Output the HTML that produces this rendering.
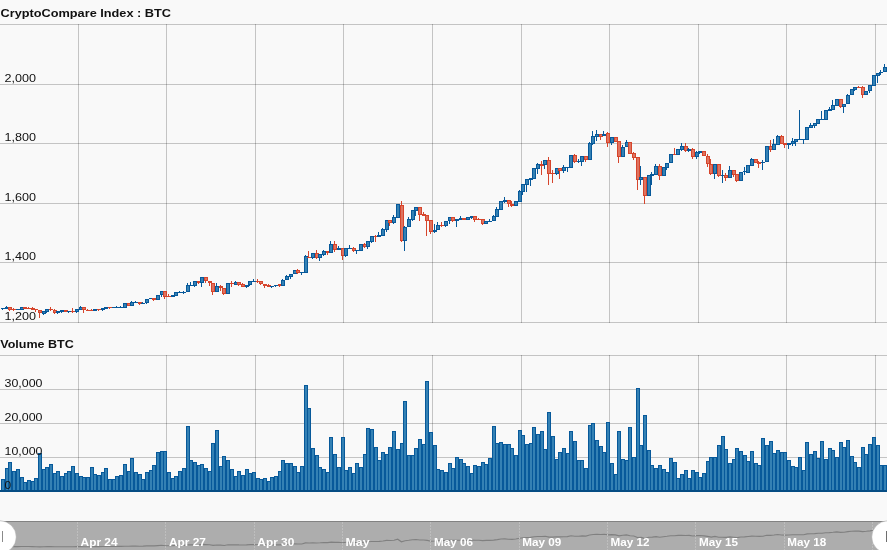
<!DOCTYPE html>
<html><head><meta charset="utf-8"><title>CryptoCompare Index : BTC</title>
<style>
html,body{margin:0;padding:0;background:#f9f9f9;overflow:hidden}
body{width:887px;height:550px;position:relative;font-family:"Liberation Sans",sans-serif;color:#000}
svg{position:absolute;left:0;top:0;display:block;will-change:transform}
text{font-family:"Liberation Sans",sans-serif}
.t{font-weight:bold;font-size:11.5px;fill:#111}
.yl{font-size:11px;fill:#111}
.sl{font-weight:bold;font-size:11px;fill:#fff}
.g{stroke:#000;stroke-opacity:0.21;stroke-width:1;shape-rendering:crispEdges}
.fb{fill:#3481b4}.wb{fill:#07599a}
.fr{fill:#df735f}.wr{fill:#d6452c}
</style></head><body>
<svg width="887" height="550" viewBox="0 0 887 550">
<rect x="0" y="0" width="887" height="550" fill="#f9f9f9"/>
<g class="g">
<line x1="0" y1="24.5" x2="887" y2="24.5"/>
<line x1="0" y1="84.5" x2="887" y2="84.5"/>
<line x1="0" y1="143.5" x2="887" y2="143.5"/>
<line x1="0" y1="203.5" x2="887" y2="203.5"/>
<line x1="0" y1="262.5" x2="887" y2="262.5"/>
<line x1="0" y1="322.5" x2="887" y2="322.5"/>
<line x1="78.5" y1="24" x2="78.5" y2="323"/>
<line x1="166.5" y1="24" x2="166.5" y2="323"/>
<line x1="255.5" y1="24" x2="255.5" y2="323"/>
<line x1="343.5" y1="24" x2="343.5" y2="323"/>
<line x1="432.5" y1="24" x2="432.5" y2="323"/>
<line x1="521.5" y1="24" x2="521.5" y2="323"/>
<line x1="609.5" y1="24" x2="609.5" y2="323"/>
<line x1="698.5" y1="24" x2="698.5" y2="323"/>
<line x1="786.5" y1="24" x2="786.5" y2="323"/>
<line x1="875.5" y1="24" x2="875.5" y2="323"/>
<line x1="0" y1="355.5" x2="887" y2="355.5"/>
<line x1="0" y1="389.5" x2="887" y2="389.5"/>
<line x1="0" y1="423.5" x2="887" y2="423.5"/>
<line x1="0" y1="457.5" x2="887" y2="457.5"/>
<line x1="78.5" y1="355" x2="78.5" y2="492"/>
<line x1="166.5" y1="355" x2="166.5" y2="492"/>
<line x1="255.5" y1="355" x2="255.5" y2="492"/>
<line x1="343.5" y1="355" x2="343.5" y2="492"/>
<line x1="432.5" y1="355" x2="432.5" y2="492"/>
<line x1="521.5" y1="355" x2="521.5" y2="492"/>
<line x1="609.5" y1="355" x2="609.5" y2="492"/>
<line x1="698.5" y1="355" x2="698.5" y2="492"/>
<line x1="786.5" y1="355" x2="786.5" y2="492"/>
<line x1="875.5" y1="355" x2="875.5" y2="492"/>
</g>
<text class="t" x="0.5" y="17" textLength="170.5" lengthAdjust="spacingAndGlyphs">CryptoCompare Index : BTC</text>
<text class="t" x="0.3" y="348" textLength="73.5" lengthAdjust="spacingAndGlyphs">Volume BTC</text>
<g shape-rendering="crispEdges">
<rect class="wb" x="2" y="308" width="1" height="2"/><rect class="wb" x="1" y="308" width="4" height="1"/>
<rect class="wb" x="6" y="306" width="1" height="3"/><rect class="wb" x="5" y="307" width="4" height="2"/>
<rect class="wr" x="9" y="307" width="1" height="4"/><rect class="wr" x="8" y="307" width="4" height="3"/><rect class="fr" x="9" y="308" width="2" height="1"/>
<rect class="wr" x="13" y="308" width="1" height="3"/><rect class="wr" x="12" y="309" width="4" height="1"/>
<rect class="wb" x="16" y="309" width="4" height="1"/>
<rect class="wb" x="20" y="307" width="4" height="3"/><rect class="fb" x="21" y="308" width="2" height="1"/>
<rect class="wr" x="23" y="307" width="4" height="2"/>
<rect class="wr" x="28" y="307" width="1" height="2"/><rect class="wr" x="27" y="308" width="4" height="1"/>
<rect class="wr" x="32" y="307" width="1" height="3"/><rect class="wr" x="31" y="308" width="4" height="2"/>
<rect class="wr" x="35" y="309" width="1" height="3"/><rect class="wr" x="34" y="309" width="4" height="1"/>
<rect class="wr" x="39" y="310" width="1" height="8"/><rect class="wr" x="38" y="310" width="4" height="3"/><rect class="fr" x="39" y="311" width="2" height="1"/>
<rect class="wb" x="43" y="311" width="1" height="4"/><rect class="wb" x="42" y="311" width="4" height="3"/><rect class="fb" x="43" y="312" width="2" height="1"/>
<rect class="wb" x="46" y="309" width="1" height="4"/><rect class="wb" x="45" y="309" width="4" height="3"/><rect class="fb" x="46" y="310" width="2" height="1"/>
<rect class="wr" x="50" y="307" width="1" height="4"/><rect class="wr" x="49" y="309" width="4" height="1"/>
<rect class="wr" x="54" y="309" width="1" height="5"/><rect class="wr" x="53" y="310" width="4" height="3"/><rect class="fr" x="54" y="311" width="2" height="1"/>
<rect class="wb" x="57" y="311" width="1" height="3"/><rect class="wb" x="56" y="311" width="4" height="2"/>
<rect class="wb" x="61" y="310" width="1" height="3"/><rect class="wb" x="60" y="310" width="4" height="2"/>
<rect class="wr" x="64" y="310" width="4" height="2"/>
<rect class="wb" x="68" y="311" width="1" height="2"/><rect class="wb" x="67" y="311" width="4" height="1"/>
<rect class="wr" x="72" y="308" width="1" height="5"/><rect class="wr" x="71" y="311" width="4" height="1"/>
<rect class="wb" x="76" y="309" width="1" height="4"/><rect class="wb" x="75" y="309" width="4" height="3"/><rect class="fb" x="76" y="310" width="2" height="1"/>
<rect class="wb" x="80" y="306" width="1" height="4"/><rect class="wb" x="79" y="307" width="4" height="3"/><rect class="fb" x="80" y="308" width="2" height="1"/>
<rect class="wr" x="83" y="307" width="1" height="6"/><rect class="wr" x="82" y="307" width="4" height="3"/><rect class="fr" x="83" y="308" width="2" height="1"/>
<rect class="wr" x="87" y="309" width="1" height="2"/><rect class="wr" x="86" y="310" width="4" height="1"/>
<rect class="wr" x="91" y="309" width="1" height="2"/><rect class="wr" x="90" y="310" width="4" height="1"/>
<rect class="wb" x="93" y="309" width="4" height="2"/>
<rect class="wr" x="98" y="309" width="1" height="2"/><rect class="wr" x="97" y="309" width="4" height="1"/>
<rect class="wb" x="102" y="308" width="1" height="3"/><rect class="wb" x="101" y="308" width="4" height="2"/>
<rect class="wb" x="104" y="307" width="4" height="2"/>
<rect class="wr" x="109" y="307" width="1" height="2"/><rect class="wr" x="108" y="307" width="4" height="1"/>
<rect class="wb" x="112" y="307" width="4" height="1"/>
<rect class="wb" x="116" y="306" width="1" height="2"/><rect class="wb" x="115" y="307" width="4" height="1"/>
<rect class="wb" x="120" y="306" width="1" height="2"/><rect class="wb" x="119" y="307" width="4" height="1"/>
<rect class="wb" x="123" y="303" width="4" height="5"/><rect class="fb" x="124" y="304" width="2" height="3"/>
<rect class="wr" x="127" y="303" width="4" height="3"/><rect class="fr" x="128" y="304" width="2" height="1"/>
<rect class="wb" x="131" y="301" width="1" height="5"/><rect class="wb" x="130" y="302" width="4" height="4"/><rect class="fb" x="131" y="303" width="2" height="2"/>
<rect class="wb" x="135" y="301" width="1" height="2"/><rect class="wb" x="134" y="302" width="4" height="1"/>
<rect class="wr" x="139" y="302" width="1" height="3"/><rect class="wr" x="138" y="302" width="4" height="2"/>
<rect class="wb" x="142" y="302" width="1" height="2"/><rect class="wb" x="141" y="303" width="4" height="1"/>
<rect class="wb" x="146" y="299" width="1" height="5"/><rect class="wb" x="145" y="299" width="4" height="4"/><rect class="fb" x="146" y="300" width="2" height="2"/>
<rect class="wb" x="149" y="298" width="4" height="1"/>
<rect class="wr" x="153" y="298" width="1" height="3"/><rect class="wr" x="152" y="298" width="4" height="2"/>
<rect class="wb" x="156" y="295" width="4" height="5"/><rect class="fb" x="157" y="296" width="2" height="3"/>
<rect class="wb" x="161" y="291" width="1" height="6"/><rect class="wb" x="160" y="291" width="4" height="4"/><rect class="fb" x="161" y="292" width="2" height="2"/>
<rect class="wr" x="164" y="291" width="1" height="8"/><rect class="wr" x="163" y="291" width="4" height="6"/><rect class="fr" x="164" y="292" width="2" height="4"/>
<rect class="wr" x="168" y="294" width="1" height="3"/><rect class="wr" x="167" y="296" width="4" height="1"/>
<rect class="wb" x="171" y="295" width="4" height="2"/>
<rect class="wb" x="174" y="292" width="4" height="4"/><rect class="fb" x="175" y="293" width="2" height="2"/>
<rect class="wb" x="179" y="291" width="1" height="2"/><rect class="wb" x="178" y="292" width="4" height="1"/>
<rect class="wb" x="183" y="291" width="1" height="3"/><rect class="wb" x="182" y="292" width="4" height="1"/>
<rect class="wb" x="187" y="283" width="1" height="9"/><rect class="wb" x="186" y="285" width="4" height="7"/><rect class="fb" x="187" y="286" width="2" height="5"/>
<rect class="wb" x="190" y="282" width="1" height="4"/><rect class="wb" x="189" y="285" width="4" height="1"/>
<rect class="wb" x="194" y="281" width="1" height="6"/><rect class="wb" x="193" y="281" width="4" height="5"/><rect class="fb" x="194" y="282" width="2" height="3"/>
<rect class="wr" x="198" y="281" width="1" height="3"/><rect class="wr" x="197" y="281" width="4" height="2"/>
<rect class="wb" x="201" y="277" width="1" height="10"/><rect class="wb" x="200" y="277" width="4" height="6"/><rect class="fb" x="201" y="278" width="2" height="4"/>
<rect class="wr" x="205" y="277" width="1" height="6"/><rect class="wr" x="204" y="277" width="4" height="4"/><rect class="fr" x="205" y="278" width="2" height="2"/>
<rect class="wr" x="209" y="281" width="1" height="5"/><rect class="wr" x="208" y="281" width="4" height="2"/>
<rect class="wr" x="212" y="283" width="1" height="12"/><rect class="wr" x="211" y="283" width="4" height="9"/><rect class="fr" x="212" y="284" width="2" height="7"/>
<rect class="wb" x="216" y="283" width="1" height="9"/><rect class="wb" x="215" y="286" width="4" height="6"/><rect class="fb" x="216" y="287" width="2" height="4"/>
<rect class="wr" x="220" y="285" width="1" height="6"/><rect class="wr" x="219" y="286" width="4" height="2"/>
<rect class="wr" x="223" y="288" width="1" height="7"/><rect class="wr" x="222" y="288" width="4" height="6"/><rect class="fr" x="223" y="289" width="2" height="4"/>
<rect class="wb" x="226" y="283" width="4" height="11"/><rect class="fb" x="227" y="284" width="2" height="9"/>
<rect class="wr" x="231" y="281" width="1" height="6"/><rect class="wr" x="230" y="283" width="4" height="1"/>
<rect class="wb" x="235" y="281" width="1" height="4"/><rect class="wb" x="234" y="282" width="4" height="3"/><rect class="fb" x="235" y="283" width="2" height="1"/>
<rect class="wr" x="238" y="282" width="1" height="4"/><rect class="wr" x="237" y="282" width="4" height="3"/><rect class="fr" x="238" y="283" width="2" height="1"/>
<rect class="wr" x="242" y="283" width="1" height="4"/><rect class="wr" x="241" y="284" width="4" height="3"/><rect class="fr" x="242" y="285" width="2" height="1"/>
<rect class="wb" x="246" y="285" width="1" height="3"/><rect class="wb" x="245" y="285" width="4" height="2"/>
<rect class="wb" x="249" y="281" width="1" height="5"/><rect class="wb" x="248" y="281" width="4" height="4"/><rect class="fb" x="249" y="282" width="2" height="2"/>
<rect class="wb" x="253" y="279" width="1" height="3"/><rect class="wb" x="252" y="281" width="4" height="1"/>
<rect class="wr" x="257" y="279" width="1" height="4"/><rect class="wr" x="256" y="281" width="4" height="1"/>
<rect class="wr" x="260" y="281" width="1" height="4"/><rect class="wr" x="259" y="281" width="4" height="3"/><rect class="fr" x="260" y="282" width="2" height="1"/>
<rect class="wr" x="264" y="284" width="1" height="4"/><rect class="wr" x="263" y="284" width="4" height="2"/>
<rect class="wr" x="268" y="284" width="1" height="3"/><rect class="wr" x="267" y="285" width="4" height="2"/>
<rect class="wb" x="271" y="286" width="1" height="2"/><rect class="wb" x="270" y="286" width="4" height="1"/>
<rect class="wb" x="275" y="285" width="1" height="2"/><rect class="wb" x="274" y="285" width="4" height="1"/>
<rect class="wr" x="279" y="284" width="1" height="3"/><rect class="wr" x="278" y="284" width="4" height="2"/>
<rect class="wb" x="282" y="279" width="1" height="7"/><rect class="wb" x="281" y="280" width="4" height="6"/><rect class="fb" x="282" y="281" width="2" height="4"/>
<rect class="wb" x="286" y="275" width="1" height="5"/><rect class="wb" x="285" y="276" width="4" height="4"/><rect class="fb" x="286" y="277" width="2" height="2"/>
<rect class="wb" x="290" y="274" width="1" height="5"/><rect class="wb" x="289" y="274" width="4" height="3"/><rect class="fb" x="290" y="275" width="2" height="1"/>
<rect class="wb" x="293" y="270" width="4" height="4"/><rect class="fb" x="294" y="271" width="2" height="2"/>
<rect class="wr" x="297" y="269" width="1" height="5"/><rect class="wr" x="296" y="270" width="4" height="3"/><rect class="fr" x="297" y="271" width="2" height="1"/>
<rect class="wb" x="301" y="272" width="1" height="3"/><rect class="wb" x="300" y="272" width="4" height="1"/>
<rect class="wb" x="305" y="255" width="1" height="18"/><rect class="wb" x="304" y="256" width="4" height="17"/><rect class="fb" x="305" y="257" width="2" height="15"/>
<rect class="wr" x="308" y="251" width="1" height="7"/><rect class="wr" x="307" y="257" width="4" height="1"/>
<rect class="wb" x="312" y="253" width="1" height="6"/><rect class="wb" x="311" y="253" width="4" height="5"/><rect class="fb" x="312" y="254" width="2" height="3"/>
<rect class="wr" x="316" y="250" width="1" height="9"/><rect class="wr" x="315" y="253" width="4" height="5"/><rect class="fr" x="316" y="254" width="2" height="3"/>
<rect class="wb" x="319" y="254" width="1" height="7"/><rect class="wb" x="318" y="254" width="4" height="4"/><rect class="fb" x="319" y="255" width="2" height="2"/>
<rect class="wb" x="323" y="250" width="1" height="6"/><rect class="wb" x="322" y="251" width="4" height="4"/><rect class="fb" x="323" y="252" width="2" height="2"/>
<rect class="wr" x="327" y="251" width="1" height="4"/><rect class="wr" x="326" y="251" width="4" height="2"/>
<rect class="wb" x="330" y="241" width="1" height="12"/><rect class="wb" x="329" y="244" width="4" height="9"/><rect class="fb" x="330" y="245" width="2" height="7"/>
<rect class="wr" x="334" y="241" width="1" height="11"/><rect class="wr" x="333" y="244" width="4" height="6"/><rect class="fr" x="334" y="245" width="2" height="4"/>
<rect class="wb" x="338" y="246" width="1" height="4"/><rect class="wb" x="337" y="248" width="4" height="2"/>
<rect class="wr" x="342" y="248" width="1" height="12"/><rect class="wr" x="341" y="248" width="4" height="8"/><rect class="fr" x="342" y="249" width="2" height="6"/>
<rect class="wb" x="345" y="248" width="1" height="9"/><rect class="wb" x="344" y="248" width="4" height="8"/><rect class="fb" x="345" y="249" width="2" height="6"/>
<rect class="wb" x="349" y="245" width="1" height="4"/><rect class="wb" x="348" y="248" width="4" height="1"/>
<rect class="wr" x="353" y="247" width="1" height="5"/><rect class="wr" x="352" y="248" width="4" height="3"/><rect class="fr" x="353" y="249" width="2" height="1"/>
<rect class="wb" x="356" y="250" width="1" height="4"/><rect class="wb" x="355" y="250" width="4" height="1"/>
<rect class="wb" x="359" y="244" width="4" height="7"/><rect class="fb" x="360" y="245" width="2" height="5"/>
<rect class="wr" x="364" y="243" width="1" height="5"/><rect class="wr" x="363" y="244" width="4" height="3"/><rect class="fr" x="364" y="245" width="2" height="1"/>
<rect class="wb" x="367" y="241" width="1" height="8"/><rect class="wb" x="366" y="241" width="4" height="6"/><rect class="fb" x="367" y="242" width="2" height="4"/>
<rect class="wb" x="371" y="236" width="1" height="7"/><rect class="wb" x="370" y="236" width="4" height="6"/><rect class="fb" x="371" y="237" width="2" height="4"/>
<rect class="wr" x="375" y="235" width="1" height="7"/><rect class="wr" x="374" y="236" width="4" height="1"/>
<rect class="wb" x="378" y="232" width="1" height="5"/><rect class="wb" x="377" y="235" width="4" height="2"/>
<rect class="wb" x="382" y="228" width="1" height="8"/><rect class="wb" x="381" y="229" width="4" height="7"/><rect class="fb" x="382" y="230" width="2" height="5"/>
<rect class="wb" x="386" y="220" width="1" height="12"/><rect class="wb" x="385" y="220" width="4" height="10"/><rect class="fb" x="386" y="221" width="2" height="8"/>
<rect class="wr" x="389" y="220" width="1" height="6"/><rect class="wr" x="388" y="220" width="4" height="3"/><rect class="fr" x="389" y="221" width="2" height="1"/>
<rect class="wb" x="393" y="215" width="1" height="9"/><rect class="wb" x="392" y="217" width="4" height="6"/><rect class="fb" x="393" y="218" width="2" height="4"/>
<rect class="wb" x="396" y="204" width="4" height="14"/><rect class="fb" x="397" y="205" width="2" height="12"/>
<rect class="wr" x="401" y="201" width="1" height="41"/><rect class="wr" x="400" y="205" width="4" height="36"/><rect class="fr" x="401" y="206" width="2" height="34"/>
<rect class="wb" x="404" y="226" width="1" height="25"/><rect class="wb" x="403" y="227" width="4" height="14"/><rect class="fb" x="404" y="228" width="2" height="12"/>
<rect class="wb" x="408" y="217" width="1" height="10"/><rect class="wb" x="407" y="219" width="4" height="8"/><rect class="fb" x="408" y="220" width="2" height="6"/>
<rect class="wb" x="412" y="210" width="1" height="11"/><rect class="wb" x="411" y="210" width="4" height="10"/><rect class="fb" x="412" y="211" width="2" height="8"/>
<rect class="wb" x="415" y="207" width="1" height="9"/><rect class="wb" x="414" y="207" width="4" height="4"/><rect class="fb" x="415" y="208" width="2" height="2"/>
<rect class="wr" x="419" y="207" width="1" height="14"/><rect class="wr" x="418" y="207" width="4" height="8"/><rect class="fr" x="419" y="208" width="2" height="6"/>
<rect class="wr" x="423" y="212" width="1" height="4"/><rect class="wr" x="422" y="214" width="4" height="2"/>
<rect class="wr" x="426" y="215" width="1" height="21"/><rect class="wr" x="425" y="215" width="4" height="6"/><rect class="fr" x="426" y="216" width="2" height="4"/>
<rect class="wr" x="430" y="220" width="1" height="14"/><rect class="wr" x="429" y="220" width="4" height="12"/><rect class="fr" x="430" y="221" width="2" height="10"/>
<rect class="wb" x="434" y="224" width="1" height="9"/><rect class="wb" x="433" y="230" width="4" height="2"/>
<rect class="wb" x="437" y="222" width="1" height="8"/><rect class="wb" x="436" y="225" width="4" height="5"/><rect class="fb" x="437" y="226" width="2" height="3"/>
<rect class="wr" x="441" y="222" width="1" height="5"/><rect class="wr" x="440" y="225" width="4" height="1"/>
<rect class="wb" x="445" y="221" width="1" height="6"/><rect class="wb" x="444" y="221" width="4" height="5"/><rect class="fb" x="445" y="222" width="2" height="3"/>
<rect class="wb" x="449" y="217" width="1" height="7"/><rect class="wb" x="448" y="217" width="4" height="4"/><rect class="fb" x="449" y="218" width="2" height="2"/>
<rect class="wr" x="452" y="217" width="1" height="5"/><rect class="wr" x="451" y="217" width="4" height="4"/><rect class="fr" x="452" y="218" width="2" height="2"/>
<rect class="wb" x="456" y="219" width="1" height="8"/><rect class="wb" x="455" y="219" width="4" height="2"/>
<rect class="wb" x="460" y="216" width="1" height="4"/><rect class="wb" x="459" y="218" width="4" height="2"/>
<rect class="wr" x="462" y="218" width="4" height="2"/>
<rect class="wb" x="466" y="217" width="4" height="3"/><rect class="fb" x="467" y="218" width="2" height="1"/>
<rect class="wb" x="471" y="216" width="1" height="3"/><rect class="wb" x="470" y="216" width="4" height="2"/>
<rect class="wr" x="474" y="216" width="1" height="6"/><rect class="wr" x="473" y="216" width="4" height="4"/><rect class="fr" x="474" y="217" width="2" height="2"/>
<rect class="wr" x="478" y="218" width="1" height="2"/><rect class="wr" x="477" y="219" width="4" height="1"/>
<rect class="wr" x="482" y="219" width="1" height="6"/><rect class="wr" x="481" y="219" width="4" height="5"/><rect class="fr" x="482" y="220" width="2" height="3"/>
<rect class="wb" x="484" y="221" width="4" height="3"/><rect class="fb" x="485" y="222" width="2" height="1"/>
<rect class="wb" x="489" y="219" width="1" height="3"/><rect class="wb" x="488" y="221" width="4" height="1"/>
<rect class="wb" x="493" y="215" width="1" height="6"/><rect class="wb" x="492" y="216" width="4" height="5"/><rect class="fb" x="493" y="217" width="2" height="3"/>
<rect class="wb" x="496" y="207" width="1" height="10"/><rect class="wb" x="495" y="209" width="4" height="8"/><rect class="fb" x="496" y="210" width="2" height="6"/>
<rect class="wb" x="499" y="201" width="4" height="9"/><rect class="fb" x="500" y="202" width="2" height="7"/>
<rect class="wb" x="504" y="197" width="1" height="6"/><rect class="wb" x="503" y="200" width="4" height="2"/>
<rect class="wr" x="508" y="200" width="1" height="7"/><rect class="wr" x="507" y="200" width="4" height="4"/><rect class="fr" x="508" y="201" width="2" height="2"/>
<rect class="wr" x="511" y="201" width="1" height="6"/><rect class="wr" x="510" y="204" width="4" height="2"/>
<rect class="wb" x="514" y="201" width="4" height="5"/><rect class="fb" x="515" y="202" width="2" height="3"/>
<rect class="wb" x="519" y="190" width="1" height="12"/><rect class="wb" x="518" y="191" width="4" height="11"/><rect class="fb" x="519" y="192" width="2" height="9"/>
<rect class="wb" x="522" y="184" width="1" height="11"/><rect class="wb" x="521" y="184" width="4" height="8"/><rect class="fb" x="522" y="185" width="2" height="6"/>
<rect class="wb" x="526" y="179" width="1" height="13"/><rect class="wb" x="525" y="179" width="4" height="6"/><rect class="fb" x="526" y="180" width="2" height="4"/>
<rect class="wb" x="530" y="178" width="1" height="8"/><rect class="wb" x="529" y="178" width="4" height="2"/>
<rect class="wb" x="532" y="168" width="4" height="11"/><rect class="fb" x="533" y="169" width="2" height="9"/>
<rect class="wb" x="537" y="163" width="1" height="11"/><rect class="wb" x="536" y="164" width="4" height="5"/><rect class="fb" x="537" y="165" width="2" height="3"/>
<rect class="wr" x="541" y="161" width="1" height="14"/><rect class="wr" x="540" y="164" width="4" height="2"/>
<rect class="wb" x="544" y="160" width="1" height="9"/><rect class="wb" x="543" y="160" width="4" height="5"/><rect class="fb" x="544" y="161" width="2" height="3"/>
<rect class="wr" x="548" y="157" width="1" height="28"/><rect class="wr" x="547" y="160" width="4" height="14"/><rect class="fr" x="548" y="161" width="2" height="12"/>
<rect class="wr" x="552" y="170" width="1" height="13"/><rect class="wr" x="551" y="173" width="4" height="1"/>
<rect class="wb" x="556" y="168" width="1" height="7"/><rect class="wb" x="555" y="168" width="4" height="6"/><rect class="fb" x="556" y="169" width="2" height="4"/>
<rect class="wr" x="559" y="168" width="1" height="11"/><rect class="wr" x="558" y="168" width="4" height="3"/><rect class="fr" x="559" y="169" width="2" height="1"/>
<rect class="wb" x="563" y="165" width="1" height="8"/><rect class="wb" x="562" y="167" width="4" height="4"/><rect class="fb" x="563" y="168" width="2" height="2"/>
<rect class="wb" x="567" y="167" width="1" height="5"/><rect class="wb" x="566" y="167" width="4" height="1"/>
<rect class="wb" x="569" y="155" width="4" height="13"/><rect class="fb" x="570" y="156" width="2" height="11"/>
<rect class="wr" x="574" y="154" width="1" height="9"/><rect class="wr" x="573" y="155" width="4" height="7"/><rect class="fr" x="574" y="156" width="2" height="5"/>
<rect class="wb" x="578" y="159" width="1" height="4"/><rect class="wb" x="577" y="161" width="4" height="1"/>
<rect class="wb" x="581" y="156" width="1" height="10"/><rect class="wb" x="580" y="156" width="4" height="6"/><rect class="fb" x="581" y="157" width="2" height="4"/>
<rect class="wr" x="585" y="156" width="1" height="6"/><rect class="wr" x="584" y="156" width="4" height="4"/><rect class="fr" x="585" y="157" width="2" height="2"/>
<rect class="wb" x="589" y="142" width="1" height="18"/><rect class="wb" x="588" y="143" width="4" height="17"/><rect class="fb" x="589" y="144" width="2" height="15"/>
<rect class="wb" x="592" y="131" width="1" height="14"/><rect class="wb" x="591" y="136" width="4" height="8"/><rect class="fb" x="592" y="137" width="2" height="6"/>
<rect class="wb" x="596" y="130" width="1" height="11"/><rect class="wb" x="595" y="134" width="4" height="3"/><rect class="fb" x="596" y="135" width="2" height="1"/>
<rect class="wr" x="600" y="134" width="1" height="6"/><rect class="wr" x="599" y="134" width="4" height="3"/><rect class="fr" x="600" y="135" width="2" height="1"/>
<rect class="wb" x="603" y="131" width="1" height="5"/><rect class="wb" x="602" y="134" width="4" height="2"/>
<rect class="wr" x="607" y="132" width="1" height="15"/><rect class="wr" x="606" y="133" width="4" height="10"/><rect class="fr" x="607" y="134" width="2" height="8"/>
<rect class="wb" x="611" y="137" width="1" height="8"/><rect class="wb" x="610" y="137" width="4" height="6"/><rect class="fb" x="611" y="138" width="2" height="4"/>
<rect class="wr" x="614" y="137" width="4" height="5"/><rect class="fr" x="615" y="138" width="2" height="3"/>
<rect class="wr" x="618" y="141" width="1" height="22"/><rect class="wr" x="617" y="141" width="4" height="16"/><rect class="fr" x="618" y="142" width="2" height="14"/>
<rect class="wb" x="622" y="145" width="1" height="12"/><rect class="wb" x="621" y="147" width="4" height="10"/><rect class="fb" x="622" y="148" width="2" height="8"/>
<rect class="wb" x="626" y="140" width="1" height="7"/><rect class="wb" x="625" y="142" width="4" height="5"/><rect class="fb" x="626" y="143" width="2" height="3"/>
<rect class="wr" x="628" y="142" width="4" height="12"/><rect class="fr" x="629" y="143" width="2" height="10"/>
<rect class="wr" x="633" y="152" width="1" height="8"/><rect class="wr" x="632" y="153" width="4" height="5"/><rect class="fr" x="633" y="154" width="2" height="3"/>
<rect class="wr" x="637" y="157" width="1" height="33"/><rect class="wr" x="636" y="157" width="4" height="23"/><rect class="fr" x="637" y="158" width="2" height="21"/>
<rect class="wb" x="640" y="166" width="1" height="19"/><rect class="wb" x="639" y="177" width="4" height="3"/><rect class="fb" x="640" y="178" width="2" height="1"/>
<rect class="wr" x="644" y="177" width="1" height="27"/><rect class="wr" x="643" y="177" width="4" height="19"/><rect class="fr" x="644" y="178" width="2" height="17"/>
<rect class="wb" x="647" y="175" width="4" height="21"/><rect class="fb" x="648" y="176" width="2" height="19"/>
<rect class="wb" x="651" y="172" width="1" height="13"/><rect class="wb" x="650" y="174" width="4" height="2"/>
<rect class="wb" x="655" y="164" width="1" height="11"/><rect class="wb" x="654" y="166" width="4" height="9"/><rect class="fb" x="655" y="167" width="2" height="7"/>
<rect class="wr" x="659" y="164" width="1" height="16"/><rect class="wr" x="658" y="166" width="4" height="10"/><rect class="fr" x="659" y="167" width="2" height="8"/>
<rect class="wb" x="662" y="167" width="4" height="9"/><rect class="fb" x="663" y="168" width="2" height="7"/>
<rect class="wb" x="666" y="163" width="1" height="7"/><rect class="wb" x="665" y="163" width="4" height="5"/><rect class="fb" x="666" y="164" width="2" height="3"/>
<rect class="wb" x="669" y="154" width="4" height="9"/><rect class="fb" x="670" y="155" width="2" height="7"/>
<rect class="wr" x="674" y="148" width="1" height="7"/><rect class="wr" x="673" y="154" width="4" height="1"/>
<rect class="wb" x="676" y="149" width="4" height="6"/><rect class="fb" x="677" y="150" width="2" height="4"/>
<rect class="wb" x="681" y="143" width="1" height="8"/><rect class="wb" x="680" y="146" width="4" height="4"/><rect class="fb" x="681" y="147" width="2" height="2"/>
<rect class="wr" x="685" y="143" width="1" height="9"/><rect class="wr" x="684" y="146" width="4" height="5"/><rect class="fr" x="685" y="147" width="2" height="3"/>
<rect class="wb" x="688" y="148" width="1" height="4"/><rect class="wb" x="687" y="149" width="4" height="2"/>
<rect class="wr" x="692" y="148" width="1" height="11"/><rect class="wr" x="691" y="149" width="4" height="8"/><rect class="fr" x="692" y="150" width="2" height="6"/>
<rect class="wb" x="696" y="151" width="1" height="8"/><rect class="wb" x="695" y="152" width="4" height="5"/><rect class="fb" x="696" y="153" width="2" height="3"/>
<rect class="wb" x="699" y="151" width="1" height="3"/><rect class="wb" x="698" y="151" width="4" height="2"/>
<rect class="wr" x="702" y="151" width="4" height="5"/><rect class="fr" x="703" y="152" width="2" height="3"/>
<rect class="wr" x="707" y="154" width="1" height="13"/><rect class="wr" x="706" y="156" width="4" height="8"/><rect class="fr" x="707" y="157" width="2" height="6"/>
<rect class="wr" x="710" y="159" width="1" height="16"/><rect class="wr" x="709" y="164" width="4" height="10"/><rect class="fr" x="710" y="165" width="2" height="8"/>
<rect class="wb" x="714" y="164" width="1" height="15"/><rect class="wb" x="713" y="164" width="4" height="10"/><rect class="fb" x="714" y="165" width="2" height="8"/>
<rect class="wr" x="718" y="164" width="1" height="13"/><rect class="wr" x="717" y="164" width="4" height="12"/><rect class="fr" x="718" y="165" width="2" height="10"/>
<rect class="wb" x="722" y="170" width="1" height="13"/><rect class="wb" x="721" y="175" width="4" height="1"/>
<rect class="wr" x="725" y="173" width="1" height="8"/><rect class="wr" x="724" y="175" width="4" height="3"/><rect class="fr" x="725" y="176" width="2" height="1"/>
<rect class="wb" x="729" y="166" width="1" height="12"/><rect class="wb" x="728" y="170" width="4" height="8"/><rect class="fb" x="729" y="171" width="2" height="6"/>
<rect class="wr" x="733" y="170" width="1" height="7"/><rect class="wr" x="732" y="170" width="4" height="5"/><rect class="fr" x="733" y="171" width="2" height="3"/>
<rect class="wr" x="736" y="174" width="1" height="8"/><rect class="wr" x="735" y="174" width="4" height="7"/><rect class="fr" x="736" y="175" width="2" height="5"/>
<rect class="wb" x="739" y="172" width="4" height="9"/><rect class="fb" x="740" y="173" width="2" height="7"/>
<rect class="wb" x="744" y="167" width="1" height="8"/><rect class="wb" x="743" y="171" width="4" height="1"/>
<rect class="wb" x="746" y="165" width="4" height="8"/><rect class="fb" x="747" y="166" width="2" height="6"/>
<rect class="wb" x="751" y="158" width="1" height="8"/><rect class="wb" x="750" y="159" width="4" height="7"/><rect class="fb" x="751" y="160" width="2" height="5"/>
<rect class="wr" x="754" y="159" width="4" height="4"/><rect class="fr" x="755" y="160" width="2" height="2"/>
<rect class="wr" x="758" y="161" width="1" height="7"/><rect class="wr" x="757" y="162" width="4" height="2"/>
<rect class="wb" x="762" y="160" width="1" height="10"/><rect class="wb" x="761" y="162" width="4" height="1"/>
<rect class="wb" x="765" y="146" width="4" height="16"/><rect class="fb" x="766" y="147" width="2" height="14"/>
<rect class="wr" x="770" y="140" width="1" height="12"/><rect class="wr" x="769" y="146" width="4" height="4"/><rect class="fr" x="770" y="147" width="2" height="2"/>
<rect class="wb" x="773" y="139" width="1" height="11"/><rect class="wb" x="772" y="144" width="4" height="6"/><rect class="fb" x="773" y="145" width="2" height="4"/>
<rect class="wb" x="777" y="135" width="1" height="10"/><rect class="wb" x="776" y="136" width="4" height="9"/><rect class="fb" x="777" y="137" width="2" height="7"/>
<rect class="wr" x="781" y="135" width="1" height="9"/><rect class="wr" x="780" y="136" width="4" height="8"/><rect class="fr" x="781" y="137" width="2" height="6"/>
<rect class="wr" x="784" y="143" width="1" height="5"/><rect class="wr" x="783" y="143" width="4" height="2"/>
<rect class="wb" x="788" y="143" width="1" height="6"/><rect class="wb" x="787" y="143" width="4" height="2"/>
<rect class="wb" x="792" y="138" width="1" height="8"/><rect class="wb" x="791" y="141" width="4" height="3"/><rect class="fb" x="792" y="142" width="2" height="1"/>
<rect class="wb" x="795" y="139" width="1" height="7"/><rect class="wb" x="794" y="139" width="4" height="3"/><rect class="fb" x="795" y="140" width="2" height="1"/>
<rect class="wb" x="799" y="110" width="1" height="30"/><rect class="wb" x="798" y="139" width="4" height="1"/>
<rect class="wb" x="803" y="139" width="1" height="5"/><rect class="wb" x="802" y="139" width="4" height="1"/>
<rect class="wb" x="805" y="127" width="4" height="13"/><rect class="fb" x="806" y="128" width="2" height="11"/>
<rect class="wb" x="810" y="123" width="1" height="5"/><rect class="wb" x="809" y="125" width="4" height="3"/><rect class="fb" x="810" y="126" width="2" height="1"/>
<rect class="wb" x="814" y="123" width="1" height="5"/><rect class="wb" x="813" y="123" width="4" height="3"/><rect class="fb" x="814" y="124" width="2" height="1"/>
<rect class="wb" x="816" y="119" width="4" height="5"/><rect class="fb" x="817" y="120" width="2" height="3"/>
<rect class="wb" x="821" y="111" width="1" height="9"/><rect class="wb" x="820" y="119" width="4" height="1"/>
<rect class="wb" x="824" y="110" width="4" height="10"/><rect class="fb" x="825" y="111" width="2" height="8"/>
<rect class="wb" x="829" y="107" width="1" height="4"/><rect class="wb" x="828" y="109" width="4" height="2"/>
<rect class="wb" x="832" y="100" width="1" height="10"/><rect class="wb" x="831" y="105" width="4" height="5"/><rect class="fb" x="832" y="106" width="2" height="3"/>
<rect class="wb" x="835" y="99" width="4" height="7"/><rect class="fb" x="836" y="100" width="2" height="5"/>
<rect class="wr" x="840" y="99" width="1" height="9"/><rect class="wr" x="839" y="99" width="4" height="8"/><rect class="fr" x="840" y="100" width="2" height="6"/>
<rect class="wb" x="843" y="104" width="1" height="9"/><rect class="wb" x="842" y="104" width="4" height="3"/><rect class="fb" x="843" y="105" width="2" height="1"/>
<rect class="wb" x="847" y="94" width="1" height="10"/><rect class="wb" x="846" y="95" width="4" height="9"/><rect class="fb" x="847" y="96" width="2" height="7"/>
<rect class="wb" x="850" y="89" width="4" height="6"/><rect class="fb" x="851" y="90" width="2" height="4"/>
<rect class="wb" x="854" y="87" width="1" height="4"/><rect class="wb" x="853" y="87" width="4" height="3"/><rect class="fb" x="854" y="88" width="2" height="1"/>
<rect class="wr" x="858" y="86" width="1" height="2"/><rect class="wr" x="857" y="87" width="4" height="1"/>
<rect class="wr" x="862" y="86" width="1" height="12"/><rect class="wr" x="861" y="87" width="4" height="8"/><rect class="fr" x="862" y="88" width="2" height="6"/>
<rect class="wb" x="864" y="91" width="4" height="4"/><rect class="fb" x="865" y="92" width="2" height="2"/>
<rect class="wb" x="869" y="85" width="1" height="8"/><rect class="wb" x="868" y="85" width="4" height="6"/><rect class="fb" x="869" y="86" width="2" height="4"/>
<rect class="wb" x="872" y="75" width="4" height="11"/><rect class="fb" x="873" y="76" width="2" height="9"/>
<rect class="wb" x="877" y="73" width="1" height="10"/><rect class="wb" x="876" y="73" width="4" height="3"/><rect class="fb" x="877" y="74" width="2" height="1"/>
<rect class="wb" x="880" y="70" width="1" height="5"/><rect class="wb" x="879" y="72" width="4" height="1"/>
<rect class="wb" x="884" y="64" width="1" height="8"/><rect class="wb" x="883" y="67" width="4" height="5"/><rect class="fb" x="884" y="68" width="2" height="3"/>
</g>
<g shape-rendering="crispEdges">
<rect class="wb" x="1" y="479" width="4" height="12"/><rect class="fb" x="2" y="480" width="2" height="11"/>
<rect class="wb" x="5" y="468" width="4" height="23"/><rect class="fb" x="6" y="469" width="2" height="22"/>
<rect class="wb" x="8" y="462" width="4" height="29"/><rect class="fb" x="9" y="463" width="2" height="28"/>
<rect class="wb" x="12" y="471" width="4" height="20"/><rect class="fb" x="13" y="472" width="2" height="19"/>
<rect class="wb" x="16" y="469" width="4" height="22"/><rect class="fb" x="17" y="470" width="2" height="21"/>
<rect class="wb" x="20" y="477" width="4" height="14"/><rect class="fb" x="21" y="478" width="2" height="13"/>
<rect class="wb" x="23" y="482" width="4" height="9"/><rect class="fb" x="24" y="483" width="2" height="8"/>
<rect class="wb" x="27" y="480" width="4" height="11"/><rect class="fb" x="28" y="481" width="2" height="10"/>
<rect class="wb" x="31" y="481" width="4" height="10"/><rect class="fb" x="32" y="482" width="2" height="9"/>
<rect class="wb" x="34" y="478" width="4" height="13"/><rect class="fb" x="35" y="479" width="2" height="12"/>
<rect class="wb" x="38" y="453" width="4" height="38"/><rect class="fb" x="39" y="454" width="2" height="37"/>
<rect class="wb" x="42" y="469" width="4" height="22"/><rect class="fb" x="43" y="470" width="2" height="21"/>
<rect class="wb" x="45" y="467" width="4" height="24"/><rect class="fb" x="46" y="468" width="2" height="23"/>
<rect class="wb" x="49" y="464" width="4" height="27"/><rect class="fb" x="50" y="465" width="2" height="26"/>
<rect class="wb" x="53" y="473" width="4" height="18"/><rect class="fb" x="54" y="474" width="2" height="17"/>
<rect class="wb" x="56" y="471" width="4" height="20"/><rect class="fb" x="57" y="472" width="2" height="19"/>
<rect class="wb" x="60" y="476" width="4" height="15"/><rect class="fb" x="61" y="477" width="2" height="14"/>
<rect class="wb" x="64" y="473" width="4" height="18"/><rect class="fb" x="65" y="474" width="2" height="17"/>
<rect class="wb" x="67" y="471" width="4" height="20"/><rect class="fb" x="68" y="472" width="2" height="19"/>
<rect class="wb" x="71" y="466" width="4" height="25"/><rect class="fb" x="72" y="467" width="2" height="24"/>
<rect class="wb" x="75" y="473" width="4" height="18"/><rect class="fb" x="76" y="474" width="2" height="17"/>
<rect class="wb" x="79" y="476" width="4" height="15"/><rect class="fb" x="80" y="477" width="2" height="14"/>
<rect class="wb" x="82" y="477" width="4" height="14"/><rect class="fb" x="83" y="478" width="2" height="13"/>
<rect class="wb" x="86" y="477" width="4" height="14"/><rect class="fb" x="87" y="478" width="2" height="13"/>
<rect class="wb" x="90" y="467" width="4" height="24"/><rect class="fb" x="91" y="468" width="2" height="23"/>
<rect class="wb" x="93" y="474" width="4" height="17"/><rect class="fb" x="94" y="475" width="2" height="16"/>
<rect class="wb" x="97" y="475" width="4" height="16"/><rect class="fb" x="98" y="476" width="2" height="15"/>
<rect class="wb" x="101" y="472" width="4" height="19"/><rect class="fb" x="102" y="473" width="2" height="18"/>
<rect class="wb" x="104" y="468" width="4" height="23"/><rect class="fb" x="105" y="469" width="2" height="22"/>
<rect class="wb" x="108" y="479" width="4" height="12"/><rect class="fb" x="109" y="480" width="2" height="11"/>
<rect class="wb" x="112" y="479" width="4" height="12"/><rect class="fb" x="113" y="480" width="2" height="11"/>
<rect class="wb" x="115" y="476" width="4" height="15"/><rect class="fb" x="116" y="477" width="2" height="14"/>
<rect class="wb" x="119" y="475" width="4" height="16"/><rect class="fb" x="120" y="476" width="2" height="15"/>
<rect class="wb" x="123" y="464" width="4" height="27"/><rect class="fb" x="124" y="465" width="2" height="26"/>
<rect class="wb" x="127" y="471" width="4" height="20"/><rect class="fb" x="128" y="472" width="2" height="19"/>
<rect class="wb" x="130" y="458" width="4" height="33"/><rect class="fb" x="131" y="459" width="2" height="32"/>
<rect class="wb" x="134" y="472" width="4" height="19"/><rect class="fb" x="135" y="473" width="2" height="18"/>
<rect class="wb" x="138" y="474" width="4" height="17"/><rect class="fb" x="139" y="475" width="2" height="16"/>
<rect class="wb" x="141" y="479" width="4" height="12"/><rect class="fb" x="142" y="480" width="2" height="11"/>
<rect class="wb" x="145" y="472" width="4" height="19"/><rect class="fb" x="146" y="473" width="2" height="18"/>
<rect class="wb" x="149" y="470" width="4" height="21"/><rect class="fb" x="150" y="471" width="2" height="20"/>
<rect class="wb" x="152" y="465" width="4" height="26"/><rect class="fb" x="153" y="466" width="2" height="25"/>
<rect class="wb" x="156" y="452" width="4" height="39"/><rect class="fb" x="157" y="453" width="2" height="38"/>
<rect class="wb" x="160" y="451" width="4" height="40"/><rect class="fb" x="161" y="452" width="2" height="39"/>
<rect class="wb" x="163" y="451" width="4" height="40"/><rect class="fb" x="164" y="452" width="2" height="39"/>
<rect class="wb" x="167" y="472" width="4" height="19"/><rect class="fb" x="168" y="473" width="2" height="18"/>
<rect class="wb" x="171" y="478" width="4" height="13"/><rect class="fb" x="172" y="479" width="2" height="12"/>
<rect class="wb" x="174" y="476" width="4" height="15"/><rect class="fb" x="175" y="477" width="2" height="14"/>
<rect class="wb" x="178" y="471" width="4" height="20"/><rect class="fb" x="179" y="472" width="2" height="19"/>
<rect class="wb" x="182" y="468" width="4" height="23"/><rect class="fb" x="183" y="469" width="2" height="22"/>
<rect class="wb" x="186" y="426" width="4" height="65"/><rect class="fb" x="187" y="427" width="2" height="64"/>
<rect class="wb" x="189" y="460" width="4" height="31"/><rect class="fb" x="190" y="461" width="2" height="30"/>
<rect class="wb" x="193" y="462" width="4" height="29"/><rect class="fb" x="194" y="463" width="2" height="28"/>
<rect class="wb" x="197" y="465" width="4" height="26"/><rect class="fb" x="198" y="466" width="2" height="25"/>
<rect class="wb" x="200" y="464" width="4" height="27"/><rect class="fb" x="201" y="465" width="2" height="26"/>
<rect class="wb" x="204" y="468" width="4" height="23"/><rect class="fb" x="205" y="469" width="2" height="22"/>
<rect class="wb" x="208" y="471" width="4" height="20"/><rect class="fb" x="209" y="472" width="2" height="19"/>
<rect class="wb" x="211" y="443" width="4" height="48"/><rect class="fb" x="212" y="444" width="2" height="47"/>
<rect class="wb" x="215" y="430" width="4" height="61"/><rect class="fb" x="216" y="431" width="2" height="60"/>
<rect class="wb" x="219" y="466" width="4" height="25"/><rect class="fb" x="220" y="467" width="2" height="24"/>
<rect class="wb" x="222" y="456" width="4" height="35"/><rect class="fb" x="223" y="457" width="2" height="34"/>
<rect class="wb" x="226" y="460" width="4" height="31"/><rect class="fb" x="227" y="461" width="2" height="30"/>
<rect class="wb" x="230" y="469" width="4" height="22"/><rect class="fb" x="231" y="470" width="2" height="21"/>
<rect class="wb" x="234" y="476" width="4" height="15"/><rect class="fb" x="235" y="477" width="2" height="14"/>
<rect class="wb" x="237" y="471" width="4" height="20"/><rect class="fb" x="238" y="472" width="2" height="19"/>
<rect class="wb" x="241" y="475" width="4" height="16"/><rect class="fb" x="242" y="476" width="2" height="15"/>
<rect class="wb" x="245" y="469" width="4" height="22"/><rect class="fb" x="246" y="470" width="2" height="21"/>
<rect class="wb" x="248" y="473" width="4" height="18"/><rect class="fb" x="249" y="474" width="2" height="17"/>
<rect class="wb" x="252" y="472" width="4" height="19"/><rect class="fb" x="253" y="473" width="2" height="18"/>
<rect class="wb" x="256" y="478" width="4" height="13"/><rect class="fb" x="257" y="479" width="2" height="12"/>
<rect class="wb" x="259" y="479" width="4" height="12"/><rect class="fb" x="260" y="480" width="2" height="11"/>
<rect class="wb" x="263" y="478" width="4" height="13"/><rect class="fb" x="264" y="479" width="2" height="12"/>
<rect class="wb" x="267" y="481" width="4" height="10"/><rect class="fb" x="268" y="482" width="2" height="9"/>
<rect class="wb" x="270" y="477" width="4" height="14"/><rect class="fb" x="271" y="478" width="2" height="13"/>
<rect class="wb" x="274" y="476" width="4" height="15"/><rect class="fb" x="275" y="477" width="2" height="14"/>
<rect class="wb" x="278" y="471" width="4" height="20"/><rect class="fb" x="279" y="472" width="2" height="19"/>
<rect class="wb" x="281" y="460" width="4" height="31"/><rect class="fb" x="282" y="461" width="2" height="30"/>
<rect class="wb" x="285" y="463" width="4" height="28"/><rect class="fb" x="286" y="464" width="2" height="27"/>
<rect class="wb" x="289" y="463" width="4" height="28"/><rect class="fb" x="290" y="464" width="2" height="27"/>
<rect class="wb" x="293" y="466" width="4" height="25"/><rect class="fb" x="294" y="467" width="2" height="24"/>
<rect class="wb" x="296" y="472" width="4" height="19"/><rect class="fb" x="297" y="473" width="2" height="18"/>
<rect class="wb" x="300" y="466" width="4" height="25"/><rect class="fb" x="301" y="467" width="2" height="24"/>
<rect class="wb" x="304" y="385" width="4" height="106"/><rect class="fb" x="305" y="386" width="2" height="105"/>
<rect class="wb" x="307" y="408" width="4" height="83"/><rect class="fb" x="308" y="409" width="2" height="82"/>
<rect class="wb" x="311" y="448" width="4" height="43"/><rect class="fb" x="312" y="449" width="2" height="42"/>
<rect class="wb" x="315" y="455" width="4" height="36"/><rect class="fb" x="316" y="456" width="2" height="35"/>
<rect class="wb" x="318" y="467" width="4" height="24"/><rect class="fb" x="319" y="468" width="2" height="23"/>
<rect class="wb" x="322" y="469" width="4" height="22"/><rect class="fb" x="323" y="470" width="2" height="21"/>
<rect class="wb" x="326" y="472" width="4" height="19"/><rect class="fb" x="327" y="473" width="2" height="18"/>
<rect class="wb" x="329" y="437" width="4" height="54"/><rect class="fb" x="330" y="438" width="2" height="53"/>
<rect class="wb" x="333" y="454" width="4" height="37"/><rect class="fb" x="334" y="455" width="2" height="36"/>
<rect class="wb" x="337" y="467" width="4" height="24"/><rect class="fb" x="338" y="468" width="2" height="23"/>
<rect class="wb" x="341" y="437" width="4" height="54"/><rect class="fb" x="342" y="438" width="2" height="53"/>
<rect class="wb" x="344" y="470" width="4" height="21"/><rect class="fb" x="345" y="471" width="2" height="20"/>
<rect class="wb" x="348" y="467" width="4" height="24"/><rect class="fb" x="349" y="468" width="2" height="23"/>
<rect class="wb" x="352" y="473" width="4" height="18"/><rect class="fb" x="353" y="474" width="2" height="17"/>
<rect class="wb" x="355" y="463" width="4" height="28"/><rect class="fb" x="356" y="464" width="2" height="27"/>
<rect class="wb" x="359" y="467" width="4" height="24"/><rect class="fb" x="360" y="468" width="2" height="23"/>
<rect class="wb" x="363" y="454" width="4" height="37"/><rect class="fb" x="364" y="455" width="2" height="36"/>
<rect class="wb" x="366" y="428" width="4" height="63"/><rect class="fb" x="367" y="429" width="2" height="62"/>
<rect class="wb" x="370" y="429" width="4" height="62"/><rect class="fb" x="371" y="430" width="2" height="61"/>
<rect class="wb" x="374" y="447" width="4" height="44"/><rect class="fb" x="375" y="448" width="2" height="43"/>
<rect class="wb" x="377" y="460" width="4" height="31"/><rect class="fb" x="378" y="461" width="2" height="30"/>
<rect class="wb" x="381" y="452" width="4" height="39"/><rect class="fb" x="382" y="453" width="2" height="38"/>
<rect class="wb" x="385" y="454" width="4" height="37"/><rect class="fb" x="386" y="455" width="2" height="36"/>
<rect class="wb" x="388" y="447" width="4" height="44"/><rect class="fb" x="389" y="448" width="2" height="43"/>
<rect class="wb" x="392" y="431" width="4" height="60"/><rect class="fb" x="393" y="432" width="2" height="59"/>
<rect class="wb" x="396" y="449" width="4" height="42"/><rect class="fb" x="397" y="450" width="2" height="41"/>
<rect class="wb" x="400" y="443" width="4" height="48"/><rect class="fb" x="401" y="444" width="2" height="47"/>
<rect class="wb" x="403" y="401" width="4" height="90"/><rect class="fb" x="404" y="402" width="2" height="89"/>
<rect class="wb" x="407" y="455" width="4" height="36"/><rect class="fb" x="408" y="456" width="2" height="35"/>
<rect class="wb" x="411" y="455" width="4" height="36"/><rect class="fb" x="412" y="456" width="2" height="35"/>
<rect class="wb" x="414" y="448" width="4" height="43"/><rect class="fb" x="415" y="449" width="2" height="42"/>
<rect class="wb" x="418" y="439" width="4" height="52"/><rect class="fb" x="419" y="440" width="2" height="51"/>
<rect class="wb" x="422" y="444" width="4" height="47"/><rect class="fb" x="423" y="445" width="2" height="46"/>
<rect class="wb" x="425" y="381" width="4" height="110"/><rect class="fb" x="426" y="382" width="2" height="109"/>
<rect class="wb" x="429" y="432" width="4" height="59"/><rect class="fb" x="430" y="433" width="2" height="58"/>
<rect class="wb" x="433" y="445" width="4" height="46"/><rect class="fb" x="434" y="446" width="2" height="45"/>
<rect class="wb" x="436" y="469" width="4" height="22"/><rect class="fb" x="437" y="470" width="2" height="21"/>
<rect class="wb" x="440" y="470" width="4" height="21"/><rect class="fb" x="441" y="471" width="2" height="20"/>
<rect class="wb" x="444" y="472" width="4" height="19"/><rect class="fb" x="445" y="473" width="2" height="18"/>
<rect class="wb" x="448" y="463" width="4" height="28"/><rect class="fb" x="449" y="464" width="2" height="27"/>
<rect class="wb" x="451" y="468" width="4" height="23"/><rect class="fb" x="452" y="469" width="2" height="22"/>
<rect class="wb" x="455" y="457" width="4" height="34"/><rect class="fb" x="456" y="458" width="2" height="33"/>
<rect class="wb" x="459" y="459" width="4" height="32"/><rect class="fb" x="460" y="460" width="2" height="31"/>
<rect class="wb" x="462" y="463" width="4" height="28"/><rect class="fb" x="463" y="464" width="2" height="27"/>
<rect class="wb" x="466" y="466" width="4" height="25"/><rect class="fb" x="467" y="467" width="2" height="24"/>
<rect class="wb" x="470" y="473" width="4" height="18"/><rect class="fb" x="471" y="474" width="2" height="17"/>
<rect class="wb" x="473" y="465" width="4" height="26"/><rect class="fb" x="474" y="466" width="2" height="25"/>
<rect class="wb" x="477" y="466" width="4" height="25"/><rect class="fb" x="478" y="467" width="2" height="24"/>
<rect class="wb" x="481" y="462" width="4" height="29"/><rect class="fb" x="482" y="463" width="2" height="28"/>
<rect class="wb" x="484" y="464" width="4" height="27"/><rect class="fb" x="485" y="465" width="2" height="26"/>
<rect class="wb" x="488" y="458" width="4" height="33"/><rect class="fb" x="489" y="459" width="2" height="32"/>
<rect class="wb" x="492" y="426" width="4" height="65"/><rect class="fb" x="493" y="427" width="2" height="64"/>
<rect class="wb" x="495" y="443" width="4" height="48"/><rect class="fb" x="496" y="444" width="2" height="47"/>
<rect class="wb" x="499" y="442" width="4" height="49"/><rect class="fb" x="500" y="443" width="2" height="48"/>
<rect class="wb" x="503" y="444" width="4" height="47"/><rect class="fb" x="504" y="445" width="2" height="46"/>
<rect class="wb" x="507" y="444" width="4" height="47"/><rect class="fb" x="508" y="445" width="2" height="46"/>
<rect class="wb" x="510" y="448" width="4" height="43"/><rect class="fb" x="511" y="449" width="2" height="42"/>
<rect class="wb" x="514" y="455" width="4" height="36"/><rect class="fb" x="515" y="456" width="2" height="35"/>
<rect class="wb" x="518" y="430" width="4" height="61"/><rect class="fb" x="519" y="431" width="2" height="60"/>
<rect class="wb" x="521" y="435" width="4" height="56"/><rect class="fb" x="522" y="436" width="2" height="55"/>
<rect class="wb" x="525" y="444" width="4" height="47"/><rect class="fb" x="526" y="445" width="2" height="46"/>
<rect class="wb" x="529" y="443" width="4" height="48"/><rect class="fb" x="530" y="444" width="2" height="47"/>
<rect class="wb" x="532" y="427" width="4" height="64"/><rect class="fb" x="533" y="428" width="2" height="63"/>
<rect class="wb" x="536" y="434" width="4" height="57"/><rect class="fb" x="537" y="435" width="2" height="56"/>
<rect class="wb" x="540" y="431" width="4" height="60"/><rect class="fb" x="541" y="432" width="2" height="59"/>
<rect class="wb" x="543" y="449" width="4" height="42"/><rect class="fb" x="544" y="450" width="2" height="41"/>
<rect class="wb" x="547" y="412" width="4" height="79"/><rect class="fb" x="548" y="413" width="2" height="78"/>
<rect class="wb" x="551" y="436" width="4" height="55"/><rect class="fb" x="552" y="437" width="2" height="54"/>
<rect class="wb" x="555" y="459" width="4" height="32"/><rect class="fb" x="556" y="460" width="2" height="31"/>
<rect class="wb" x="558" y="452" width="4" height="39"/><rect class="fb" x="559" y="453" width="2" height="38"/>
<rect class="wb" x="562" y="448" width="4" height="43"/><rect class="fb" x="563" y="449" width="2" height="42"/>
<rect class="wb" x="566" y="453" width="4" height="38"/><rect class="fb" x="567" y="454" width="2" height="37"/>
<rect class="wb" x="569" y="431" width="4" height="60"/><rect class="fb" x="570" y="432" width="2" height="59"/>
<rect class="wb" x="573" y="441" width="4" height="50"/><rect class="fb" x="574" y="442" width="2" height="49"/>
<rect class="wb" x="577" y="460" width="4" height="31"/><rect class="fb" x="578" y="461" width="2" height="30"/>
<rect class="wb" x="580" y="460" width="4" height="31"/><rect class="fb" x="581" y="461" width="2" height="30"/>
<rect class="wb" x="584" y="468" width="4" height="23"/><rect class="fb" x="585" y="469" width="2" height="22"/>
<rect class="wb" x="588" y="425" width="4" height="66"/><rect class="fb" x="589" y="426" width="2" height="65"/>
<rect class="wb" x="591" y="423" width="4" height="68"/><rect class="fb" x="592" y="424" width="2" height="67"/>
<rect class="wb" x="595" y="440" width="4" height="51"/><rect class="fb" x="596" y="441" width="2" height="50"/>
<rect class="wb" x="599" y="446" width="4" height="45"/><rect class="fb" x="600" y="447" width="2" height="44"/>
<rect class="wb" x="602" y="452" width="4" height="39"/><rect class="fb" x="603" y="453" width="2" height="38"/>
<rect class="wb" x="606" y="422" width="4" height="69"/><rect class="fb" x="607" y="423" width="2" height="68"/>
<rect class="wb" x="610" y="463" width="4" height="28"/><rect class="fb" x="611" y="464" width="2" height="27"/>
<rect class="wb" x="614" y="474" width="4" height="17"/><rect class="fb" x="615" y="475" width="2" height="16"/>
<rect class="wb" x="617" y="431" width="4" height="60"/><rect class="fb" x="618" y="432" width="2" height="59"/>
<rect class="wb" x="621" y="459" width="4" height="32"/><rect class="fb" x="622" y="460" width="2" height="31"/>
<rect class="wb" x="625" y="460" width="4" height="31"/><rect class="fb" x="626" y="461" width="2" height="30"/>
<rect class="wb" x="628" y="427" width="4" height="64"/><rect class="fb" x="629" y="428" width="2" height="63"/>
<rect class="wb" x="632" y="457" width="4" height="34"/><rect class="fb" x="633" y="458" width="2" height="33"/>
<rect class="wb" x="636" y="388" width="4" height="103"/><rect class="fb" x="637" y="389" width="2" height="102"/>
<rect class="wb" x="639" y="445" width="4" height="46"/><rect class="fb" x="640" y="446" width="2" height="45"/>
<rect class="wb" x="643" y="415" width="4" height="76"/><rect class="fb" x="644" y="416" width="2" height="75"/>
<rect class="wb" x="647" y="450" width="4" height="41"/><rect class="fb" x="648" y="451" width="2" height="40"/>
<rect class="wb" x="650" y="465" width="4" height="26"/><rect class="fb" x="651" y="466" width="2" height="25"/>
<rect class="wb" x="654" y="468" width="4" height="23"/><rect class="fb" x="655" y="469" width="2" height="22"/>
<rect class="wb" x="658" y="465" width="4" height="26"/><rect class="fb" x="659" y="466" width="2" height="25"/>
<rect class="wb" x="662" y="469" width="4" height="22"/><rect class="fb" x="663" y="470" width="2" height="21"/>
<rect class="wb" x="665" y="472" width="4" height="19"/><rect class="fb" x="666" y="473" width="2" height="18"/>
<rect class="wb" x="669" y="458" width="4" height="33"/><rect class="fb" x="670" y="459" width="2" height="32"/>
<rect class="wb" x="673" y="462" width="4" height="29"/><rect class="fb" x="674" y="463" width="2" height="28"/>
<rect class="wb" x="676" y="478" width="4" height="13"/><rect class="fb" x="677" y="479" width="2" height="12"/>
<rect class="wb" x="680" y="474" width="4" height="17"/><rect class="fb" x="681" y="475" width="2" height="16"/>
<rect class="wb" x="684" y="470" width="4" height="21"/><rect class="fb" x="685" y="471" width="2" height="20"/>
<rect class="wb" x="687" y="478" width="4" height="13"/><rect class="fb" x="688" y="479" width="2" height="12"/>
<rect class="wb" x="691" y="470" width="4" height="21"/><rect class="fb" x="692" y="471" width="2" height="20"/>
<rect class="wb" x="695" y="472" width="4" height="19"/><rect class="fb" x="696" y="473" width="2" height="18"/>
<rect class="wb" x="698" y="477" width="4" height="14"/><rect class="fb" x="699" y="478" width="2" height="13"/>
<rect class="wb" x="702" y="473" width="4" height="18"/><rect class="fb" x="703" y="474" width="2" height="17"/>
<rect class="wb" x="706" y="461" width="4" height="30"/><rect class="fb" x="707" y="462" width="2" height="29"/>
<rect class="wb" x="709" y="457" width="4" height="34"/><rect class="fb" x="710" y="458" width="2" height="33"/>
<rect class="wb" x="713" y="457" width="4" height="34"/><rect class="fb" x="714" y="458" width="2" height="33"/>
<rect class="wb" x="717" y="445" width="4" height="46"/><rect class="fb" x="718" y="446" width="2" height="45"/>
<rect class="wb" x="721" y="436" width="4" height="55"/><rect class="fb" x="722" y="437" width="2" height="54"/>
<rect class="wb" x="724" y="449" width="4" height="42"/><rect class="fb" x="725" y="450" width="2" height="41"/>
<rect class="wb" x="728" y="463" width="4" height="28"/><rect class="fb" x="729" y="464" width="2" height="27"/>
<rect class="wb" x="732" y="459" width="4" height="32"/><rect class="fb" x="733" y="460" width="2" height="31"/>
<rect class="wb" x="735" y="448" width="4" height="43"/><rect class="fb" x="736" y="449" width="2" height="42"/>
<rect class="wb" x="739" y="451" width="4" height="40"/><rect class="fb" x="740" y="452" width="2" height="39"/>
<rect class="wb" x="743" y="455" width="4" height="36"/><rect class="fb" x="744" y="456" width="2" height="35"/>
<rect class="wb" x="746" y="461" width="4" height="30"/><rect class="fb" x="747" y="462" width="2" height="29"/>
<rect class="wb" x="750" y="451" width="4" height="40"/><rect class="fb" x="751" y="452" width="2" height="39"/>
<rect class="wb" x="754" y="463" width="4" height="28"/><rect class="fb" x="755" y="464" width="2" height="27"/>
<rect class="wb" x="757" y="465" width="4" height="26"/><rect class="fb" x="758" y="466" width="2" height="25"/>
<rect class="wb" x="761" y="438" width="4" height="53"/><rect class="fb" x="762" y="439" width="2" height="52"/>
<rect class="wb" x="765" y="445" width="4" height="46"/><rect class="fb" x="766" y="446" width="2" height="45"/>
<rect class="wb" x="769" y="441" width="4" height="50"/><rect class="fb" x="770" y="442" width="2" height="49"/>
<rect class="wb" x="772" y="453" width="4" height="38"/><rect class="fb" x="773" y="454" width="2" height="37"/>
<rect class="wb" x="776" y="450" width="4" height="41"/><rect class="fb" x="777" y="451" width="2" height="40"/>
<rect class="wb" x="780" y="452" width="4" height="39"/><rect class="fb" x="781" y="453" width="2" height="38"/>
<rect class="wb" x="783" y="452" width="4" height="39"/><rect class="fb" x="784" y="453" width="2" height="38"/>
<rect class="wb" x="787" y="460" width="4" height="31"/><rect class="fb" x="788" y="461" width="2" height="30"/>
<rect class="wb" x="791" y="466" width="4" height="25"/><rect class="fb" x="792" y="467" width="2" height="24"/>
<rect class="wb" x="794" y="467" width="4" height="24"/><rect class="fb" x="795" y="468" width="2" height="23"/>
<rect class="wb" x="798" y="457" width="4" height="34"/><rect class="fb" x="799" y="458" width="2" height="33"/>
<rect class="wb" x="802" y="470" width="4" height="21"/><rect class="fb" x="803" y="471" width="2" height="20"/>
<rect class="wb" x="805" y="442" width="4" height="49"/><rect class="fb" x="806" y="443" width="2" height="48"/>
<rect class="wb" x="809" y="454" width="4" height="37"/><rect class="fb" x="810" y="455" width="2" height="36"/>
<rect class="wb" x="813" y="451" width="4" height="40"/><rect class="fb" x="814" y="452" width="2" height="39"/>
<rect class="wb" x="816" y="458" width="4" height="33"/><rect class="fb" x="817" y="459" width="2" height="32"/>
<rect class="wb" x="820" y="441" width="4" height="50"/><rect class="fb" x="821" y="442" width="2" height="49"/>
<rect class="wb" x="824" y="459" width="4" height="32"/><rect class="fb" x="825" y="460" width="2" height="31"/>
<rect class="wb" x="828" y="448" width="4" height="43"/><rect class="fb" x="829" y="449" width="2" height="42"/>
<rect class="wb" x="831" y="450" width="4" height="41"/><rect class="fb" x="832" y="451" width="2" height="40"/>
<rect class="wb" x="835" y="457" width="4" height="34"/><rect class="fb" x="836" y="458" width="2" height="33"/>
<rect class="wb" x="839" y="442" width="4" height="49"/><rect class="fb" x="840" y="443" width="2" height="48"/>
<rect class="wb" x="842" y="447" width="4" height="44"/><rect class="fb" x="843" y="448" width="2" height="43"/>
<rect class="wb" x="846" y="440" width="4" height="51"/><rect class="fb" x="847" y="441" width="2" height="50"/>
<rect class="wb" x="850" y="456" width="4" height="35"/><rect class="fb" x="851" y="457" width="2" height="34"/>
<rect class="wb" x="853" y="462" width="4" height="29"/><rect class="fb" x="854" y="463" width="2" height="28"/>
<rect class="wb" x="857" y="467" width="4" height="24"/><rect class="fb" x="858" y="468" width="2" height="23"/>
<rect class="wb" x="861" y="447" width="4" height="44"/><rect class="fb" x="862" y="448" width="2" height="43"/>
<rect class="wb" x="864" y="454" width="4" height="37"/><rect class="fb" x="865" y="455" width="2" height="36"/>
<rect class="wb" x="868" y="444" width="4" height="47"/><rect class="fb" x="869" y="445" width="2" height="46"/>
<rect class="wb" x="872" y="437" width="4" height="54"/><rect class="fb" x="873" y="438" width="2" height="53"/>
<rect class="wb" x="876" y="445" width="4" height="46"/><rect class="fb" x="877" y="446" width="2" height="45"/>
<rect class="wb" x="879" y="465" width="4" height="26"/><rect class="fb" x="880" y="466" width="2" height="25"/>
<rect class="wb" x="883" y="465" width="4" height="26"/><rect class="fb" x="884" y="466" width="2" height="25"/>
</g>
<rect x="0" y="490" width="887" height="2" fill="#064d84"/>
<text class="yl" x="4.5" y="82" textLength="31.5" lengthAdjust="spacingAndGlyphs">2,000</text>
<text class="yl" x="4.5" y="141" textLength="31.5" lengthAdjust="spacingAndGlyphs">1,800</text>
<text class="yl" x="4.5" y="201" textLength="31.5" lengthAdjust="spacingAndGlyphs">1,600</text>
<text class="yl" x="4.5" y="260" textLength="31.5" lengthAdjust="spacingAndGlyphs">1,400</text>
<text class="yl" x="4.5" y="320" textLength="31.5" lengthAdjust="spacingAndGlyphs">1,200</text>
<text class="yl" x="4.5" y="387" textLength="38" lengthAdjust="spacingAndGlyphs">30,000</text>
<text class="yl" x="4.5" y="421" textLength="38" lengthAdjust="spacingAndGlyphs">20,000</text>
<text class="yl" x="4.5" y="455" textLength="38" lengthAdjust="spacingAndGlyphs">10,000</text>
<text class="yl" x="4.5" y="489" textLength="6.6" lengthAdjust="spacingAndGlyphs">0</text>
<rect x="0" y="521" width="887" height="29" fill="#adadad"/>
<rect x="0" y="521" width="887" height="1" fill="#828282"/>
<path d="M0,546.5 L2.9,546.5 L6.6,546.4 L10.3,546.6 L14.0,546.6 L17.7,546.6 L21.4,546.5 L25.1,546.5 L28.7,546.5 L32.4,546.6 L36.1,546.7 L39.8,546.9 L43.5,546.7 L47.2,546.6 L50.9,546.6 L54.6,546.8 L58.3,546.7 L61.9,546.7 L65.6,546.8 L69.3,546.7 L73.0,546.8 L76.7,546.6 L80.4,546.5 L84.1,546.7 L87.8,546.7 L91.5,546.7 L95.2,546.6 L98.8,546.6 L102.5,546.5 L106.2,546.5 L109.9,546.5 L113.6,546.5 L117.3,546.4 L121.0,546.4 L124.7,546.2 L128.4,546.3 L132.1,546.1 L135.7,546.1 L139.4,546.2 L143.1,546.1 L146.8,545.9 L150.5,545.8 L154.2,545.9 L157.9,545.6 L161.6,545.3 L165.3,545.7 L168.9,545.7 L172.6,545.6 L176.3,545.4 L180.0,545.4 L183.7,545.4 L187.4,544.9 L191.1,544.9 L194.8,544.6 L198.5,544.7 L202.2,544.4 L205.8,544.6 L209.5,544.8 L213.2,545.4 L216.9,545.0 L220.6,545.1 L224.3,545.5 L228.0,544.8 L231.7,544.9 L235.4,544.7 L239.0,544.9 L242.7,545.0 L246.4,544.9 L250.1,544.6 L253.8,544.6 L257.5,544.7 L261.2,544.8 L264.9,544.9 L268.6,545.0 L272.3,544.9 L275.9,544.9 L279.6,544.9 L283.3,544.6 L287.0,544.3 L290.7,544.2 L294.4,543.9 L298.1,544.0 L301.8,544.0 L305.5,542.9 L309.2,543.0 L312.8,542.7 L316.5,543.0 L320.2,542.8 L323.9,542.5 L327.6,542.6 L331.3,542.1 L335.0,542.4 L338.7,542.3 L342.4,542.8 L346.0,542.3 L349.7,542.3 L353.4,542.5 L357.1,542.4 L360.8,542.0 L364.5,542.2 L368.2,541.8 L371.9,541.5 L375.6,541.5 L379.3,541.4 L382.9,541.0 L386.6,540.4 L390.3,540.5 L394.0,540.2 L397.7,539.2 L401.4,541.8 L405.1,540.8 L408.8,540.3 L412.5,539.7 L416.1,539.5 L419.8,540.0 L423.5,540.0 L427.2,540.4 L430.9,541.2 L434.6,541.0 L438.3,540.7 L442.0,540.8 L445.7,540.4 L449.4,540.2 L453.0,540.4 L456.7,540.3 L460.4,540.2 L464.1,540.3 L467.8,540.2 L471.5,540.1 L475.2,540.3 L478.9,540.3 L482.6,540.6 L486.3,540.4 L489.9,540.4 L493.6,540.1 L497.3,539.6 L501.0,539.0 L504.7,538.9 L508.4,539.3 L512.1,539.4 L515.8,539.0 L519.5,538.3 L523.1,537.8 L526.8,537.5 L530.5,537.4 L534.2,536.7 L537.9,536.5 L541.6,536.5 L545.3,536.2 L549.0,537.1 L552.7,537.1 L556.4,536.7 L560.0,536.9 L563.7,536.7 L567.4,536.6 L571.1,535.8 L574.8,536.3 L578.5,536.2 L582.2,535.9 L585.9,536.1 L589.6,535.0 L593.3,534.5 L596.9,534.3 L600.6,534.5 L604.3,534.3 L608.0,534.9 L611.7,534.6 L615.4,534.9 L619.1,535.9 L622.8,535.3 L626.5,534.9 L630.1,535.7 L633.8,536.0 L637.5,537.5 L641.2,537.4 L644.9,538.6 L648.6,537.2 L652.3,537.1 L656.0,536.6 L659.7,537.3 L663.4,536.7 L667.0,536.3 L670.7,535.7 L674.4,535.8 L678.1,535.4 L681.8,535.2 L685.5,535.5 L689.2,535.4 L692.9,536.0 L696.6,535.6 L700.2,535.5 L703.9,535.9 L707.6,536.4 L711.3,537.1 L715.0,536.4 L718.7,537.2 L722.4,537.2 L726.1,537.4 L729.8,536.9 L733.5,537.2 L737.1,537.6 L740.8,537.0 L744.5,536.9 L748.2,536.5 L751.9,536.1 L755.6,536.3 L759.3,536.4 L763.0,536.3 L766.7,535.2 L770.4,535.4 L774.0,535.0 L777.7,534.5 L781.4,535.0 L785.1,535.1 L788.8,535.0 L792.5,534.8 L796.2,534.7 L799.9,534.7 L803.6,534.7 L807.2,533.9 L810.9,533.7 L814.6,533.6 L818.3,533.3 L822.0,533.3 L825.7,532.7 L829.4,532.6 L833.1,532.3 L836.8,531.9 L840.5,532.4 L844.1,532.2 L847.8,531.6 L851.5,531.2 L855.2,531.1 L858.9,531.1 L862.6,531.6 L866.3,531.3 L870.0,530.9 L873.7,530.2 L877.4,530.0 L881.0,530.0 L884.7,529.6 L887,529.6" fill="none" stroke="#808080" stroke-width="1.1"/>
<line x1="77.5" y1="522" x2="77.5" y2="550" stroke="#bebebe" stroke-width="1" stroke-dasharray="2,1" shape-rendering="crispEdges"/>
<line x1="165.5" y1="522" x2="165.5" y2="550" stroke="#bebebe" stroke-width="1" stroke-dasharray="2,1" shape-rendering="crispEdges"/>
<line x1="254.5" y1="522" x2="254.5" y2="550" stroke="#bebebe" stroke-width="1" stroke-dasharray="2,1" shape-rendering="crispEdges"/>
<line x1="342.5" y1="522" x2="342.5" y2="550" stroke="#bebebe" stroke-width="1" stroke-dasharray="2,1" shape-rendering="crispEdges"/>
<line x1="430.5" y1="522" x2="430.5" y2="550" stroke="#bebebe" stroke-width="1" stroke-dasharray="2,1" shape-rendering="crispEdges"/>
<line x1="519.5" y1="522" x2="519.5" y2="550" stroke="#bebebe" stroke-width="1" stroke-dasharray="2,1" shape-rendering="crispEdges"/>
<line x1="607.5" y1="522" x2="607.5" y2="550" stroke="#bebebe" stroke-width="1" stroke-dasharray="2,1" shape-rendering="crispEdges"/>
<line x1="695.5" y1="522" x2="695.5" y2="550" stroke="#bebebe" stroke-width="1" stroke-dasharray="2,1" shape-rendering="crispEdges"/>
<line x1="784.5" y1="522" x2="784.5" y2="550" stroke="#bebebe" stroke-width="1" stroke-dasharray="2,1" shape-rendering="crispEdges"/>
<line x1="872.5" y1="522" x2="872.5" y2="550" stroke="#bebebe" stroke-width="1" stroke-dasharray="2,1" shape-rendering="crispEdges"/>
<text class="sl" x="80.6" y="546" textLength="37" lengthAdjust="spacingAndGlyphs">Apr 24</text>
<text class="sl" x="168.9" y="546" textLength="37" lengthAdjust="spacingAndGlyphs">Apr 27</text>
<text class="sl" x="257.3" y="546" textLength="37" lengthAdjust="spacingAndGlyphs">Apr 30</text>
<text class="sl" x="345.6" y="546" textLength="24" lengthAdjust="spacingAndGlyphs">May</text>
<text class="sl" x="433.9" y="546" textLength="39" lengthAdjust="spacingAndGlyphs">May 06</text>
<text class="sl" x="522.2" y="546" textLength="39" lengthAdjust="spacingAndGlyphs">May 09</text>
<text class="sl" x="610.6" y="546" textLength="39" lengthAdjust="spacingAndGlyphs">May 12</text>
<text class="sl" x="698.9" y="546" textLength="39" lengthAdjust="spacingAndGlyphs">May 15</text>
<text class="sl" x="787.2" y="546" textLength="39" lengthAdjust="spacingAndGlyphs">May 18</text>
<circle cx="0" cy="537" r="16.3" fill="#fff" stroke="#9a9a9a" stroke-width="0.5"/>
<circle cx="888" cy="537" r="16.3" fill="#fff" stroke="#9a9a9a" stroke-width="0.5"/>
<rect x="2" y="531" width="1" height="11" fill="#8a8a8a"/>
<rect x="886" y="531" width="1" height="11" fill="#6e6e6e"/>
</svg>
</body></html>
